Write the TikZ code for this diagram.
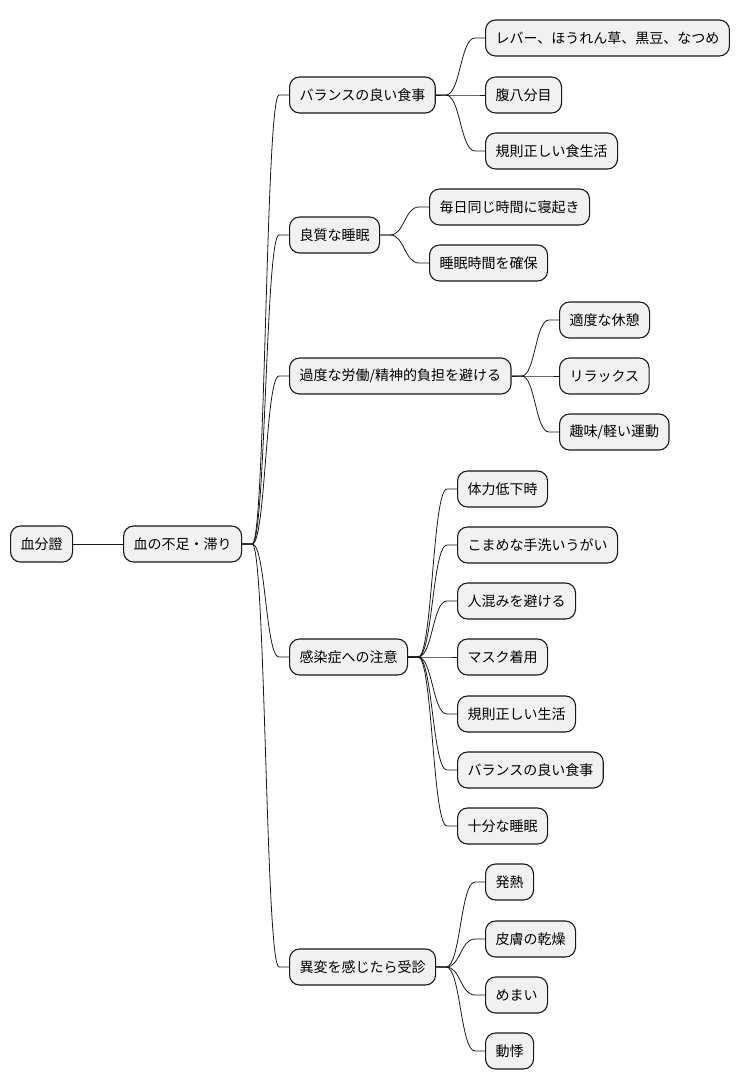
\documentclass[tikz,border=0pt]{standalone}
\usepackage{fontspec}
\setmainfont{Noto Sans CJK JP}
\usepackage{tikz}
\usetikzlibrary{calc, positioning}
\usepackage{xcolor}
\definecolor{NodeGray}{HTML}{F1F1F1}
\definecolor{RichBlack}{HTML}{181818}
\tikzset{%
  mind_block/.style={%
    rectangle,%
    rounded corners=10pt,%
    draw=RichBlack,%
    fill=NodeGray,%
    line width=1.1pt,%
    minimum height=36pt,%
    inner xsep=10pt,%
    anchor=west,%
    font={\fontsize{14}{17}\selectfont},%
    align=center%
  },
  mind_path/.style={%
    color=RichBlack,%
    line width=0.8pt,%
    line join=round,%
  },
  mind_branch/.style={%
    to path={%
      let \p1=(\tikztostart), \p2=(\tikztotarget),
          \p3=($(\tikztostart)!0.5!(\tikztotarget)$) in
      -- (\x1+10pt,\y1)
      .. controls (\x3,\y1) and (\x3,\y2) ..
      (\x2-10pt,\y2) -- (\tikztotarget)%
    }%
  },
}
\begin{document}
\begin{tikzpicture}[x=1pt, y=-1pt]
  \useasboundingbox (0,0) rectangle (740,1090);

          \node [mind_block] (Root) at (10,544) {血分證};
          \node [mind_block, right = 50 of Root] (Blood) {血の不足・滞り};

          \node [mind_block] (Food) at (289,95) {バランスの良い食事};
          \node [mind_block] (Sleep) at (289,235) {良質な睡眠};
          \node [mind_block] (Work) at (289,376) {過度な労働/精神的負担を避ける};
          \node [mind_block] (Infect) at (289,657) {感染症への注意};
          \node [mind_block] (Visit) at (289,967) {異変を感じたら受診};

          \node [mind_block] (Liver) at (485,38) {レバー、ほうれん草、黒豆、なつめ};
          \node [mind_block] (Belly) at (485,95) {腹八分目};
          \node [mind_block] (Meals) at (485,151) {規則正しい食生活};

          \node [mind_block] (SameTime) at (429,207) {毎日同じ時間に寝起き};
          \node [mind_block] (Hours) at (429,263) {睡眠時間を確保};

          \node [mind_block] (Rest) at (559,320) {適度な休憩};
          \node [mind_block] (Relax) at (559,376) {リラックス};
          \node [mind_block] (Hobby) at (559,432) {趣味/軽い運動};

          \node [mind_block] (Weak) at (457,489) {体力低下時};
          \node [mind_block] (Wash) at (457,545) {こまめな手洗いうがい};
          \node [mind_block] (Crowd) at (457,601) {人混みを避ける};
          \node [mind_block] (Mask) at (457,657) {マスク着用};
          \node [mind_block] (Regular) at (457,714) {規則正しい生活};
          \node [mind_block] (Balance) at (457,770) {バランスの良い食事};
          \node [mind_block] (Enough) at (457,826) {十分な睡眠};

          \node [mind_block] (Fever) at (485,882) {発熱};
          \node [mind_block] (Skin) at (485,939) {皮膚の乾燥};
          \node [mind_block] (Dizzy) at (485,995) {めまい};
          \node [mind_block] (Palp) at (485,1051) {動悸};

          \draw [mind_path]
            (Root.east)
            --
            (Blood.west);
          \foreach \child in {Food, Sleep, Work, Infect, Visit}
            \draw [mind_path] (Blood.east) to [mind_branch] (\child.west);
          \foreach \child in {Liver, Belly, Meals}
            \draw [mind_path] (Food.east) to [mind_branch] (\child.west);
          \foreach \child in {SameTime, Hours}
            \draw [mind_path] (Sleep.east) to [mind_branch] (\child.west);
          \foreach \child in {Rest, Relax, Hobby}
            \draw [mind_path] (Work.east) to [mind_branch] (\child.west);
          \foreach \child in {Weak, Wash, Crowd, Mask, Regular, Balance, Enough}
            \draw [mind_path] (Infect.east) to [mind_branch] (\child.west);
          \foreach \child in {Fever, Skin, Dizzy, Palp}
            \draw [mind_path] (Visit.east) to [mind_branch] (\child.west);
        \end{tikzpicture}
\end{document}
